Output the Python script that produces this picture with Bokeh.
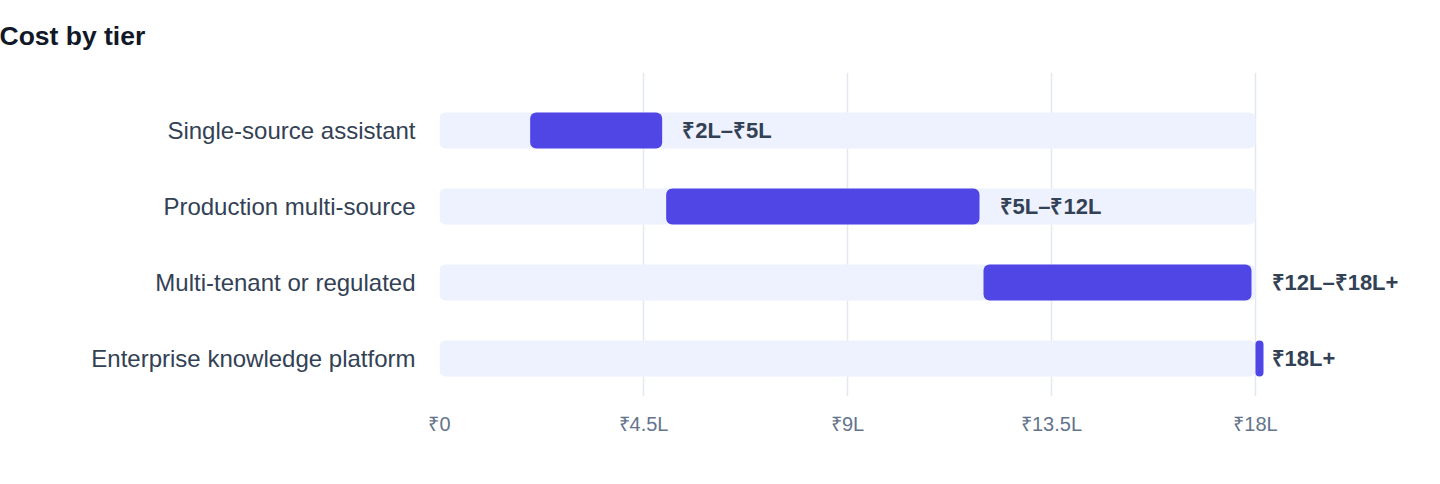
from bokeh.plotting import figure
from bokeh.models import Range1d, FixedTicker, ColumnDataSource
from bokeh.core.properties import value
from bokeh.embed import file_html
from bokeh.resources import INLINE

tiers = ["Single-source assistant", "Production multi-source",
         "Multi-tenant or regulated", "Enterprise knowledge platform"]
low = [2, 5, 12, 18]
high = [5, 12, 18, 18]
labels = ["₹2L–₹5L", "₹5L–₹12L", "₹12L–₹18L+", "₹18L+"]
scale_max = 18
tick_values = [0, 4.5, 9, 13.5, 18]
tick_labels = ["₹0", "₹4.5L", "₹9L", "₹13.5L", "₹18L"]
title_text = "Cost by tier"

FONT = "Liberation Sans"
FRAME_W, FRAME_H = 982, 324

px_per_unit = 816 / scale_max
gap = 4 / px_per_unit
min_w = 8 / px_per_unit

rows = list(range(len(tiers)))
bar_right = [h - gap if h > l else l + min_w for l, h in zip(low, high)]
src = ColumnDataSource(dict(y=rows, low=low, high=high, right=bar_right,
                            zero=[0] * len(rows), track=[scale_max] * len(rows),
                            label=labels))

p = figure(frame_width=FRAME_W, frame_height=FRAME_H, output_backend="svg",
           toolbar_location=None,
           x_range=Range1d(0, scale_max * FRAME_W / 816),
           y_range=Range1d(3.5, -0.763),
           min_border_left=439, min_border_right=10, min_border_top=72,
           min_border_bottom=0)
p.outline_line_color = None
p.background_fill_color = "white"
p.border_fill_color = "white"

p.title.text = title_text
p.title.text_font = FONT
p.title.text_font_size = "26.5px"
p.title.text_font_style = "bold"
p.title.text_color = "#111827"
p.title.offset = -440
p.title.standoff = 40
p.title.vertical_align = "top"

p.hbar(y="y", left="zero", right="track", height=0.474, source=src,
       fill_color="#eef2ff", line_color=None, border_radius=6)
p.hbar(y="y", left="low", right="right", height=0.474, source=src,
       fill_color="#4f46e5", line_color=None, border_radius=6)
p.text(x="high", y="y", text="label", source=src, x_offset=16,
       text_baseline="middle", text_align="left",
       text_font=value(FONT), text_font_size="22px", text_font_style="bold",
       text_color="#334155")

p.xaxis.ticker = FixedTicker(ticks=tick_values)
p.xaxis.major_label_overrides = {v: t for v, t in zip(tick_values, tick_labels)}
p.xaxis.axis_line_color = None
p.xaxis.major_tick_line_color = None
p.xaxis.minor_tick_line_color = None
p.xaxis.major_label_text_font = FONT
p.xaxis.major_label_text_font_size = "20px"
p.xaxis.major_label_text_color = "#64748b"
p.xaxis.major_label_standoff = 10

p.yaxis.ticker = FixedTicker(ticks=rows)
p.yaxis.major_label_overrides = {r: t for r, t in zip(rows, tiers)}
p.yaxis.axis_line_color = None
p.yaxis.major_tick_line_color = None
p.yaxis.minor_tick_line_color = None
p.yaxis.major_label_text_font = FONT
p.yaxis.major_label_text_font_size = "24px"
p.yaxis.major_label_text_color = "#334155"
p.yaxis.major_label_standoff = 18

p.xgrid.ticker = FixedTicker(ticks=tick_values)
p.xgrid.grid_line_color = "#e2e8f0"
p.xgrid.grid_line_width = 1.5
p.ygrid.grid_line_color = None

open("out.html", "w").write(file_html(p, INLINE))
